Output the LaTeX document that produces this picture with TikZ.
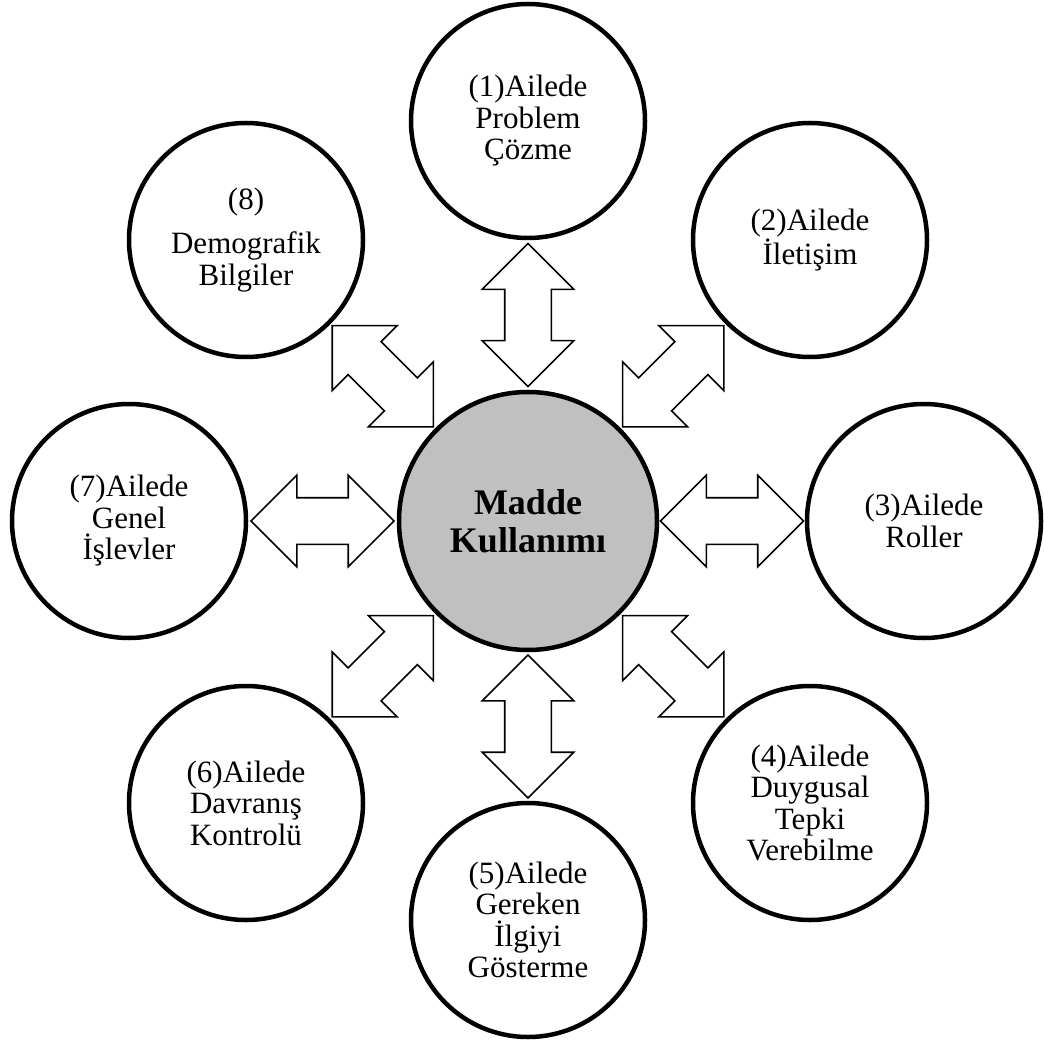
\documentclass[tikz,border=0pt]{standalone}
\usepackage{fontspec}
\setmainfont{Liberation Serif}
\usetikzlibrary{shapes.arrows,calc}
\definecolor{centergray}{RGB}{192,192,192}
\begin{document}
\begin{tikzpicture}[x=1pt,y=-1pt,
  outer/.style={circle,draw=black,line width=4.5pt,fill=white,minimum size=234pt,inner sep=0pt,align=center,font=\fontsize{31}{31.5}\selectfont},
  center/.style={circle,draw=black,line width=4.5pt,fill=centergray,minimum size=258pt,inner sep=0pt,align=center,font=\bfseries\fontsize{36}{38}\selectfont},
  darrow/.style={double arrow,draw=black,fill=white,line width=1.6pt,double arrow head extend=22.5pt,double arrow tip angle=90,minimum height=143pt,inner xsep=0pt,inner ysep=22.5pt}]
\useasboundingbox (0,0) rectangle (1044,1040);
\node[center] (c) at (528,521) {Madde\\Kullanımı};
\node[outer] (n1) at (528,121) {(1)Ailede\\Problem\\Çözme};
\node[outer] (n2) at (810,240) {(2)Ailede\\İletişim};
\node[outer] (n3) at (924,521) {(3)Ailede\\Roller};
\node[outer] (n4) at (810,803) {(4)Ailede\\Duygusal\\Tepki\\Verebilme};
\node[outer] (n5) at (528,920) {(5)Ailede\\Gereken\\İlgiyi\\Gösterme};
\node[outer] (n6) at (246,803) {(6)Ailede\\Davranış\\Kontrolü};
\node[outer] (n7) at (129,521) {(7)Ailede\\Genel\\İşlevler};
\node[outer] (n8) at (246,240) {(8)\\[13pt]Demografik\\Bilgiler};
\node[darrow,rotate=90] (a1) at ($(c.90)!0.5!(n1.270)$) {};
\node[darrow,rotate=45] (a2) at ($(c.45)!0.5!(n2.225)$) {};
\node[darrow,rotate=0] (a3) at ($(c.0)!0.5!(n3.180)$) {};
\node[darrow,rotate=-45] (a4) at ($(c.-45)!0.5!(n4.135)$) {};
\node[darrow,rotate=90] (a5) at ($(c.-90)!0.5!(n5.90)$) {};
\node[darrow,rotate=45] (a6) at ($(c.-135)!0.5!(n6.45)$) {};
\node[darrow,rotate=0] (a7) at ($(c.180)!0.5!(n7.0)$) {};
\node[darrow,rotate=-45] (a8) at ($(c.135)!0.5!(n8.-45)$) {};
\end{tikzpicture}
\end{document}
